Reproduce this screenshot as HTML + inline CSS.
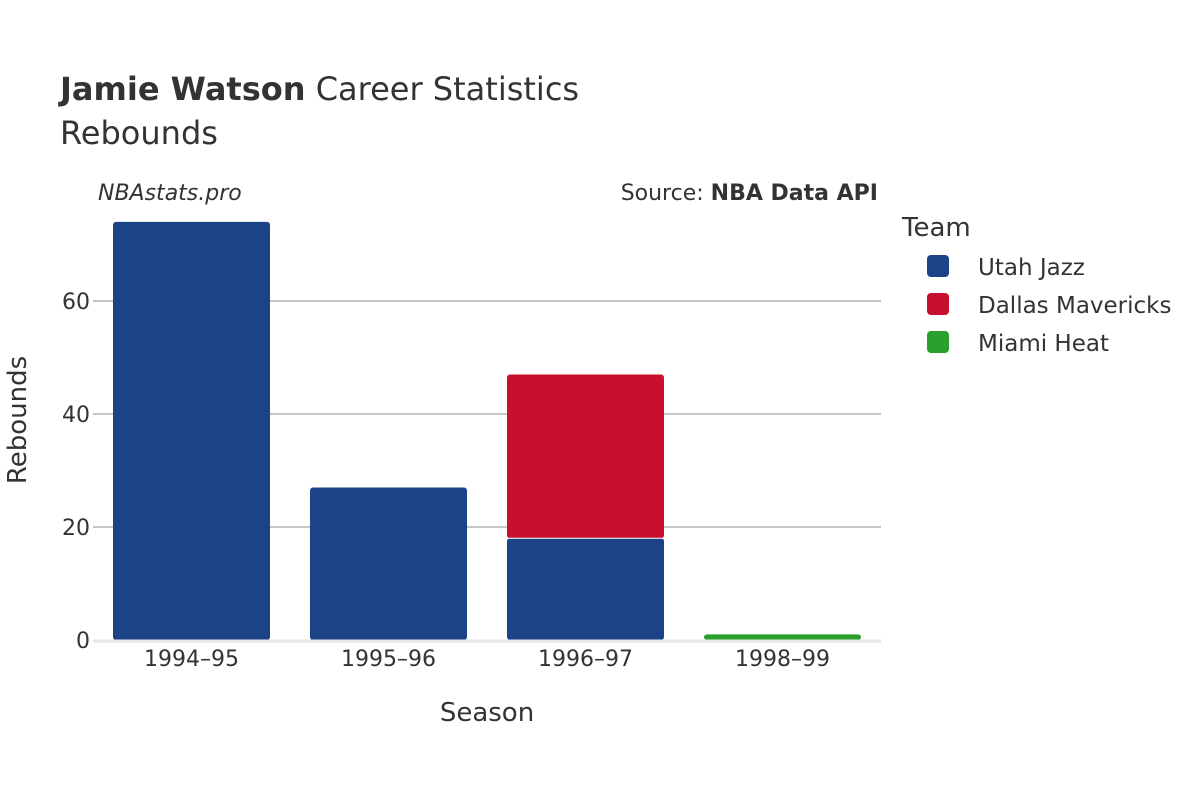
<!DOCTYPE html>
<html><head><meta charset="utf-8"><style>
body{margin:0;background:#fff;font-family:"DejaVu Sans","Liberation Sans",sans-serif;}
</style></head><body>
<svg id="chart" width="1200" height="800" xmlns="http://www.w3.org/2000/svg" font-family="DejaVu Sans, Liberation Sans, sans-serif">
<rect width="1200" height="800" fill="#fff"/>
<text x="60" y="100" font-size="32" fill="#333"><tspan font-weight="bold">Jamie Watson</tspan> Career Statistics</text>
<text x="60" y="144" font-size="32" fill="#333">Rebounds</text>
<text x="98" y="200" font-size="22" font-style="italic" fill="#333">NBAstats.pro</text>
<text x="878" y="200" font-size="22" text-anchor="end" fill="#333">Source: <tspan font-weight="bold">NBA Data API</tspan></text>
<g id="grid"></g>
<g id="bars"></g>
<g id="xaxis"></g>
<g id="yaxis"></g>
<text x="487" y="721" font-size="26" text-anchor="middle" fill="#333">Season</text>
<text transform="translate(26,420) rotate(-90)" font-size="26" text-anchor="middle" fill="#333">Rebounds</text>
<g>
<text x="902" y="236" font-size="26" fill="#333">Team</text>
<g id="legend-items"></g>
</g>
</svg>
<script>
const seasons = ["1994–95","1995–96","1996–97","1998–99"];
const teams = ["Utah Jazz","Dallas Mavericks","Miami Heat"];
const colors = ["#1c4388","#c8102e","#2ca02c"];
const utahJazz = [74,27,18,0];
const dallasMavericks = [0,0,29,0];
const miamiHeat = [0,0,0,1];
const yTicks = [0,20,40,60];
const series = [utahJazz, dallasMavericks, miamiHeat];

const NS="http://www.w3.org/2000/svg";
const plotL=93, plotR=881, y0=640, pxPerUnit=5.65;
const band=(plotR-plotL)/seasons.length, barW=157;
const yScale=v=>y0-v*pxPerUnit;
const xCenter=i=>plotL+band*(i+0.5);
function mk(tag,attrs,parent){const e=document.createElementNS(NS,tag);for(const k in attrs)e.setAttribute(k,attrs[k]);parent.appendChild(e);return e;}

const grid=document.getElementById('grid'), yaxis=document.getElementById('yaxis');
yTicks.forEach(t=>{
  if(t>0){const l=mk('line',{x1:plotL,x2:plotR,y1:yScale(t),y2:yScale(t),stroke:'#b3b3b3','stroke-width':1.5},grid);
  
  }
  const tx=mk('text',{x:90,y:yScale(t)+8,'font-size':22,'text-anchor':'end',fill:'#333'},yaxis);
  tx.textContent=t;
  
  
});
const bars=document.getElementById('bars');
seasons.forEach((s,i)=>{
  let base=0;
  series.forEach((ser,k)=>{
    const v=ser[i]; if(!v)return;
    const top=yScale(base+v), bot=yScale(base);
    const r=mk('rect',{x:xCenter(i)-barW/2,y:top,width:barW,height:bot-top,fill:colors[k],rx:3},bars);
    
    
    if(base>0){const l=mk('line',{x1:xCenter(i)-barW/2,x2:xCenter(i)+barW/2,y1:bot,y2:bot,stroke:'#fff','stroke-width':1},bars);
    
    }
    base+=v;
  });
  const tx=mk('text',{x:xCenter(i),y:666,'font-size':22,'text-anchor':'middle',fill:'#333'},document.getElementById('xaxis'));
  tx.textContent=s;
  
  
});
const zl=mk('line',{x1:plotL,x2:plotR,y1:y0+1,y2:y0+1,stroke:'#e6e6e6','stroke-width':3},document.getElementById('xaxis'));


const lg=document.getElementById('legend-items');
teams.forEach((t,k)=>{
  const y=266+k*38;
  const r=mk('rect',{x:927,y:y-11,width:22,height:22,rx:4,fill:colors[k]},lg);
  
  
  const tx=mk('text',{x:978,y:y+9,'font-size':23,fill:'#333'},lg);
  tx.textContent=t;
  
  
});
</script>
</body></html>
